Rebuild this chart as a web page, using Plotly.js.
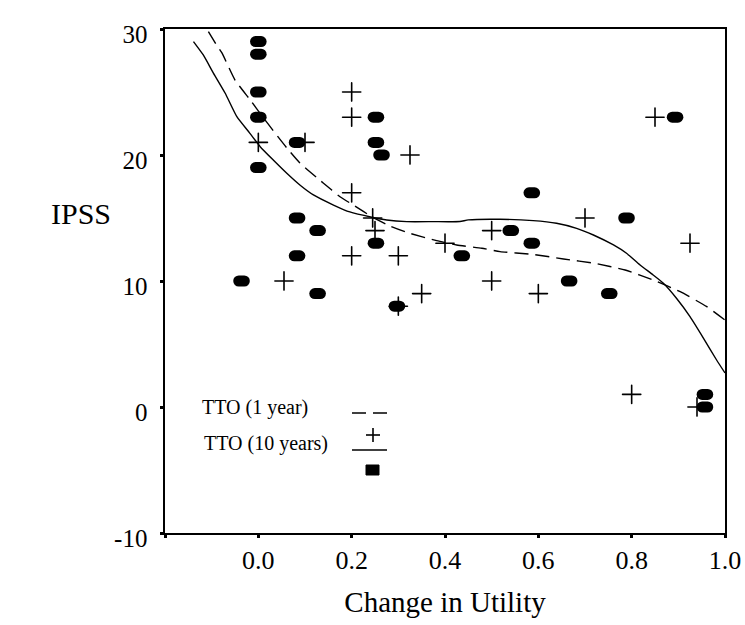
<!DOCTYPE html>
<html>
<head>
<meta charset="utf-8">
<script src="https://cdn.plot.ly/plotly-3.0.1.min.js"></script>
<style>
  html, body { margin: 0; padding: 0; background: #fff; }
  #chart { width: 745px; height: 625px; }
  .scatterlayer path.point { stroke-linecap: round; }
</style>
</head>
<body>
<div id="chart"></div>
<script>
// ---- Data ----
// TTO (1 year): "+" markers
const tto1_x = [0.0, 0.1, 0.2, 0.2, 0.2, 0.2, 0.245, 0.25, 0.3, 0.3, 0.325, 0.35, 0.4, 0.5, 0.5, 0.6, 0.7, 0.8, 0.85, 0.925, 0.94, 0.055];
const tto1_y = [21, 21, 25, 23, 17, 12, 15, 14, 12, 8, 20, 9, 13, 14, 10, 9, 15, 1, 23, 13, 0, 10];

// TTO (10 years): filled markers
const tto10_x = [0, 0, 0, 0, 0, 0.083, 0.083, 0.083, 0.127, 0.127, -0.036, 0.252, 0.252, 0.264, 0.252, 0.297, 0.436, 0.541, 0.586, 0.586, 0.666, 0.752, 0.789, 0.893, 0.957, 0.957];
const tto10_y = [29, 28, 25, 23, 19, 21, 15, 12, 14, 9, 10, 23, 21, 20, 13, 8, 12, 14, 17, 13, 10, 9, 15, 23, 1, 0];

// Fitted curve, TTO (1 year) — dashed
const fit1_x = [-0.107, -0.089, -0.078, -0.050, -0.018, 0.010, 0.031, 0.061, 0.089, 0.139, 0.175, 0.207, 0.243, 0.282, 0.321, 0.382, 0.425, 0.479, 0.518, 0.586, 0.654, 0.721, 0.786, 0.846, 0.904, 0.961, 1.0];
const fit1_y = [29.8, 28.7, 28.1, 25.95, 24.4, 23.0, 21.97, 20.56, 19.37, 17.78, 16.69, 15.95, 15.1, 14.37, 13.83, 13.2, 12.86, 12.6, 12.33, 12.12, 11.75, 11.4, 10.87, 10.08, 9.15, 7.96, 6.9];

// Fitted curve, TTO (10 years) — solid
const fit10_x = [-0.139, -0.118, -0.096, -0.071, -0.046, -0.018, 0.004, 0.032, 0.061, 0.089, 0.118, 0.161, 0.196, 0.243, 0.275, 0.318, 0.375, 0.432, 0.45, 0.518, 0.589, 0.639, 0.682, 0.718, 0.761, 0.789, 0.818, 0.846, 0.868, 0.896, 0.925, 0.954, 0.982, 1.0];
const fit10_y = [29.0, 27.94, 26.48, 24.9, 23.04, 21.72, 20.66, 19.6, 18.55, 17.62, 16.83, 16.03, 15.48, 15.06, 14.84, 14.71, 14.71, 14.72, 14.85, 14.9, 14.79, 14.58, 14.18, 13.65, 12.86, 12.2, 11.27, 10.48, 9.82, 8.63, 7.17, 5.45, 3.73, 2.7];

// Axis ticks
const xTickVals = [-0.2, 0.0, 0.2, 0.4, 0.6, 0.8, 1.0];
const xTickText = ['', '0.0', '0.2', '0.4', '0.6', '0.8', '1.0'];
const yTickVals = [-10, 0, 10, 20, 30];
const yTickText = ['-10', '0', '10', '20', '30'];

const legendLabels = ['TTO (1 year)', 'TTO (10 years)'];

// ---- Chart ----
const FONT = "'Liberation Serif', 'Times New Roman', serif";
const L = 165, R = 725, T = 29, B = 533;
const px = x => (x - L) / (R - L);
const py = y => (B - y) / (B - T);

const traces = [
  { x: fit1_x, y: fit1_y, mode: 'lines', type: 'scatter', name: legendLabels[0],
    line: { color: '#000', width: 1.4, dash: '14px,7px', shape: 'spline', smoothing: 0.5 }, hoverinfo: 'skip' },
  { x: fit10_x, y: fit10_y, mode: 'lines', type: 'scatter', name: legendLabels[1],
    line: { color: '#000', width: 1.4, shape: 'spline', smoothing: 0.5 }, hoverinfo: 'skip' },
  { x: tto1_x, y: tto1_y, mode: 'markers', type: 'scatter', name: legendLabels[0],
    marker: { symbol: 'cross-thin', size: 13, color: '#000', line: { color: '#000', width: 1.6 } } },
  { x: tto10_x, y: tto10_y, mode: 'markers', type: 'scatter', name: legendLabels[1],
    marker: { symbol: 'line-ew', size: 4, color: '#000', line: { color: '#000', width: 11 } } }
];

const axisCommon = {
  showline: true, linecolor: '#000', linewidth: 1.6, mirror: true,
  showgrid: false, zeroline: false,
  ticks: 'outside', ticklen: 3, tickwidth: 3, tickcolor: '#000',
  tickfont: { family: FONT, size: 26, color: '#000' }
};

const layout = {
  width: 745, height: 625,
  margin: { l: L, r: 745 - R, t: T, b: 625 - B },
  paper_bgcolor: '#fff', plot_bgcolor: '#fff',
  showlegend: false,
  font: { family: FONT, color: '#000' },
  xaxis: Object.assign({}, axisCommon, {
    range: [-0.2, 1.0], tickmode: 'array', tickvals: xTickVals, ticktext: xTickText,
    title: { text: 'Change in Utility', font: { family: FONT, size: 29, color: '#000' }, standoff: 18 }
  }),
  yaxis: Object.assign({}, axisCommon, {
    range: [-10, 30], tickmode: 'array', tickvals: yTickVals, ticktext: yTickText,
    tickfont: { family: FONT, size: 25, color: '#000' },
    ticklabelstandoff: 8, ticklabelshift: 5
  }),
  annotations: [
    { text: 'IPSS', xref: 'paper', yref: 'paper', x: px(113), y: py(213), xanchor: 'right', showarrow: false,
      font: { family: FONT, size: 30, color: '#000' } },
    { text: legendLabels[0], xref: 'paper', yref: 'paper', x: px(200), y: py(421), xanchor: 'left', showarrow: false,
      font: { family: FONT, size: 20, color: '#000' } },
    { text: legendLabels[1], xref: 'paper', yref: 'paper', x: px(202), y: py(457), xanchor: 'left', showarrow: false,
      font: { family: FONT, size: 20, color: '#000' } }
  ],
  shapes: [
    { type: 'line', xref: 'paper', yref: 'paper', x0: px(352), x1: px(387), y0: py(413), y1: py(413),
      line: { color: '#000', width: 1.4, dash: '14px,7px' } },
    { type: 'line', xref: 'paper', yref: 'paper', x0: px(366), x1: px(380), y0: py(435), y1: py(435),
      line: { color: '#000', width: 1.6 } },
    { type: 'line', xref: 'paper', yref: 'paper', x0: px(373), x1: px(373), y0: py(428), y1: py(442),
      line: { color: '#000', width: 1.6 } },
    { type: 'line', xref: 'paper', yref: 'paper', x0: px(352), x1: px(387), y0: py(450), y1: py(450),
      line: { color: '#000', width: 1.4 } },
    { type: 'rect', xref: 'paper', yref: 'paper', x0: px(366), x1: px(379), y0: py(465), y1: py(475),
      fillcolor: '#000', line: { color: '#000', width: 1 } }
  ]
};

Plotly.newPlot('chart', traces, layout, { displayModeBar: false, staticPlot: true });
</script>
</body>
</html>
